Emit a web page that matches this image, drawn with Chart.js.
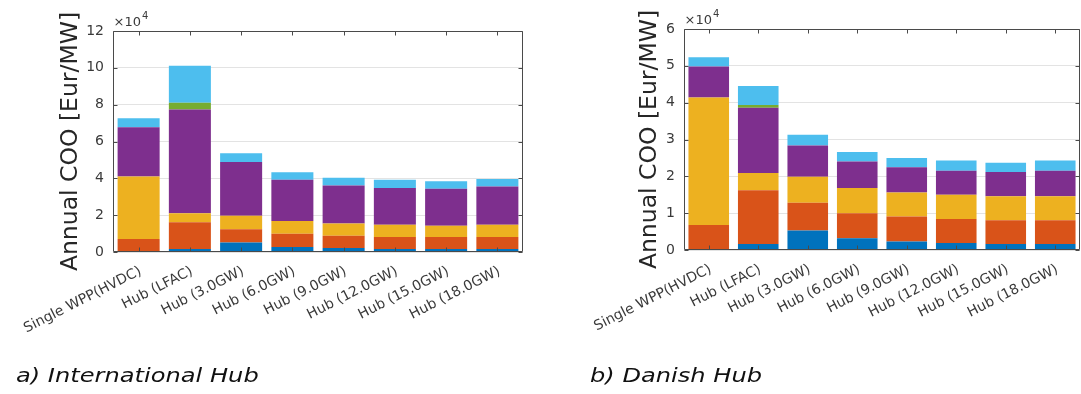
<!DOCTYPE html>
<html>
<head>
<meta charset="utf-8">
<script src="https://cdn.jsdelivr.net/npm/chart.js@4/dist/chart.umd.min.js"></script>
<style>
  html, body { margin:0; padding:0; background:#fff; }
  body { width:1081px; height:394px; position:relative; overflow:hidden; font-family:"DejaVu Sans", sans-serif; }
  .wrap { position:absolute; top:0; height:394px; }
  .cap { position:absolute; font-family:"DejaVu Sans", sans-serif; font-style:italic; font-size:19px; color:#111;
         transform:scaleX(1.27); transform-origin:left center; white-space:nowrap; }
</style>
</head>
<body>
<div class="wrap" style="left:0;width:540px;"><canvas id="cA"></canvas></div>
<div class="wrap" style="left:540px;width:541px;"><canvas id="cB"></canvas></div>
<div class="cap" style="left:16px;top:364px;">a) International Hub</div>
<div class="cap" style="left:590px;top:364px;">b) Danish Hub</div>
<script>
// Categories (x tick labels)
const categories = ["Single WPP(HVDC)", "Hub (LFAC)", "Hub (3.0GW)", "Hub (6.0GW)", "Hub (9.0GW)", "Hub (12.0GW)", "Hub (15.0GW)", "Hub (18.0GW)"];

// a) International Hub — stacked components, in units of 10^4 Eur/MW
const intlBlue   = [0.00, 0.16, 0.51, 0.27, 0.22, 0.16, 0.16, 0.16];
const intlOrange = [0.70, 1.45, 0.72, 0.72, 0.66, 0.65, 0.65, 0.65];
const intlYellow = [3.40, 0.50, 0.74, 0.69, 0.67, 0.67, 0.62, 0.67];
const intlPurple = [2.67, 5.63, 2.92, 2.24, 2.06, 2.00, 2.00, 2.08];
const intlGreen  = [0.00, 0.36, 0.00, 0.00, 0.00, 0.00, 0.00, 0.00];
const intlCyan   = [0.49, 2.01, 0.47, 0.41, 0.42, 0.44, 0.41, 0.41];

// b) Danish Hub — stacked components, in units of 10^4 Eur/MW
const danBlue   = [0.00, 0.16, 0.53, 0.32, 0.23, 0.19, 0.16, 0.16];
const danOrange = [0.68, 1.46, 0.75, 0.68, 0.68, 0.65, 0.65, 0.65];
const danYellow = [3.46, 0.47, 0.71, 0.68, 0.65, 0.66, 0.65, 0.65];
const danPurple = [0.84, 1.77, 0.85, 0.72, 0.69, 0.65, 0.66, 0.69];
const danGreen  = [0.00, 0.08, 0.00, 0.00, 0.00, 0.00, 0.00, 0.00];
const danCyan   = [0.25, 0.51, 0.29, 0.26, 0.25, 0.28, 0.25, 0.28];

// Y axis tick settings
const intlYMax = 12, intlYStep = 2;
const danYMax = 6, danYStep = 1;

const seriesColors = ["#0072BD", "#D95319", "#EDB120", "#7E2F8E", "#77AC30", "#4DBEEE"];
const seriesNames = ["Component 1", "Component 2", "Component 3", "Component 4", "Component 5", "Component 6"];

const AXIS_COLOR = "#4a4a4a";
const TEXT_COLOR = "#3a3a3a";

const boxPlugin = {
  id: "matlabBox",
  afterDatasetsDraw(chart) {
    const { ctx, chartArea: { left, right, top, bottom }, scales: { x, y } } = chart;
    ctx.save();
    ctx.strokeStyle = AXIS_COLOR;
    ctx.lineWidth = 1;
    ctx.beginPath();
    const L = Math.round(left) + 0.5, R = Math.round(right) - 0.5, T = Math.round(top) + 0.5, B = Math.round(bottom) - 0.5;
    ctx.rect(L, T, R - L, B - T);
    const tl = 4;
    x.ticks.forEach((t, i) => {
      const px = Math.round(x.getPixelForTick(i)) + 0.5;
      ctx.moveTo(px, B); ctx.lineTo(px, B - tl);
      ctx.moveTo(px, T); ctx.lineTo(px, T + tl);
    });
    y.ticks.forEach((t, i) => {
      const py = Math.round(y.getPixelForTick(i)) + 0.5;
      ctx.moveTo(L, py); ctx.lineTo(L + tl, py);
      ctx.moveTo(R, py); ctx.lineTo(R - tl, py);
    });
    ctx.stroke();
    // exponent label x10^4
    ctx.fillStyle = TEXT_COLOR;
    ctx.textBaseline = "alphabetic";
    ctx.textAlign = "left";
    ctx.font = "13px 'DejaVu Sans'";
    const base = "\u00d710";
    ctx.fillText(base, L, T - 5.5);
    const w = ctx.measureText(base).width;
    ctx.font = "10px 'DejaVu Sans'";
    ctx.fillText("4", L + w + 1, T - 13);
    ctx.restore();
  }
};

function makeChart(id, data, yMax, yStep, pad, yWidth, xHeight, titlePad) {
  const datasets = data.map((arr, i) => ({
    label: seriesNames[i],
    data: arr,
    backgroundColor: seriesColors[i],
    borderWidth: 0,
    barPercentage: 0.82,
    categoryPercentage: 1.0
  }));
  return new Chart(document.getElementById(id), {
    type: "bar",
    data: { labels: categories, datasets },
    options: {
      responsive: true,
      maintainAspectRatio: false,
      animation: false,
      layout: { padding: pad },
      plugins: { legend: { display: false }, tooltip: { enabled: false } },
      scales: {
        x: {
          stacked: true,
          grid: { display: false, drawTicks: false },
          border: { display: false },
          ticks: { color: TEXT_COLOR, font: { family: "DejaVu Sans", size: 14 }, maxRotation: 27, minRotation: 27, padding: 11, labelOffset: 2, autoSkip: false },
          afterFit(s) { s.height = xHeight; }
        },
        y: {
          stacked: true,
          min: 0, max: yMax,
          grid: { color: "#e3e3e3", drawTicks: false },
          border: { display: false },
          ticks: { stepSize: yStep, color: TEXT_COLOR, font: { family: "DejaVu Sans", size: 14 }, padding: 9 },
          title: { display: true, text: "Annual COO [Eur/MW]", color: "#262626", font: { family: "DejaVu Sans", size: 23.5 }, padding: { top: titlePad, bottom: 0 } },
          afterFit(s) { s.width = yWidth; }
        }
      }
    },
    plugins: [boxPlugin]
  });
}

makeChart("cA", [intlBlue, intlOrange, intlYellow, intlPurple, intlGreen, intlCyan], intlYMax, intlYStep,
  { top: 31, right: 17, left: 0, bottom: 0 }, 113, 142, 57);
makeChart("cB", [danBlue, danOrange, danYellow, danPurple, danGreen, danCyan], danYMax, danYStep,
  { top: 29, right: 1, left: 0, bottom: 0 }, 144, 144, 96);
</script>
</body>
</html>
